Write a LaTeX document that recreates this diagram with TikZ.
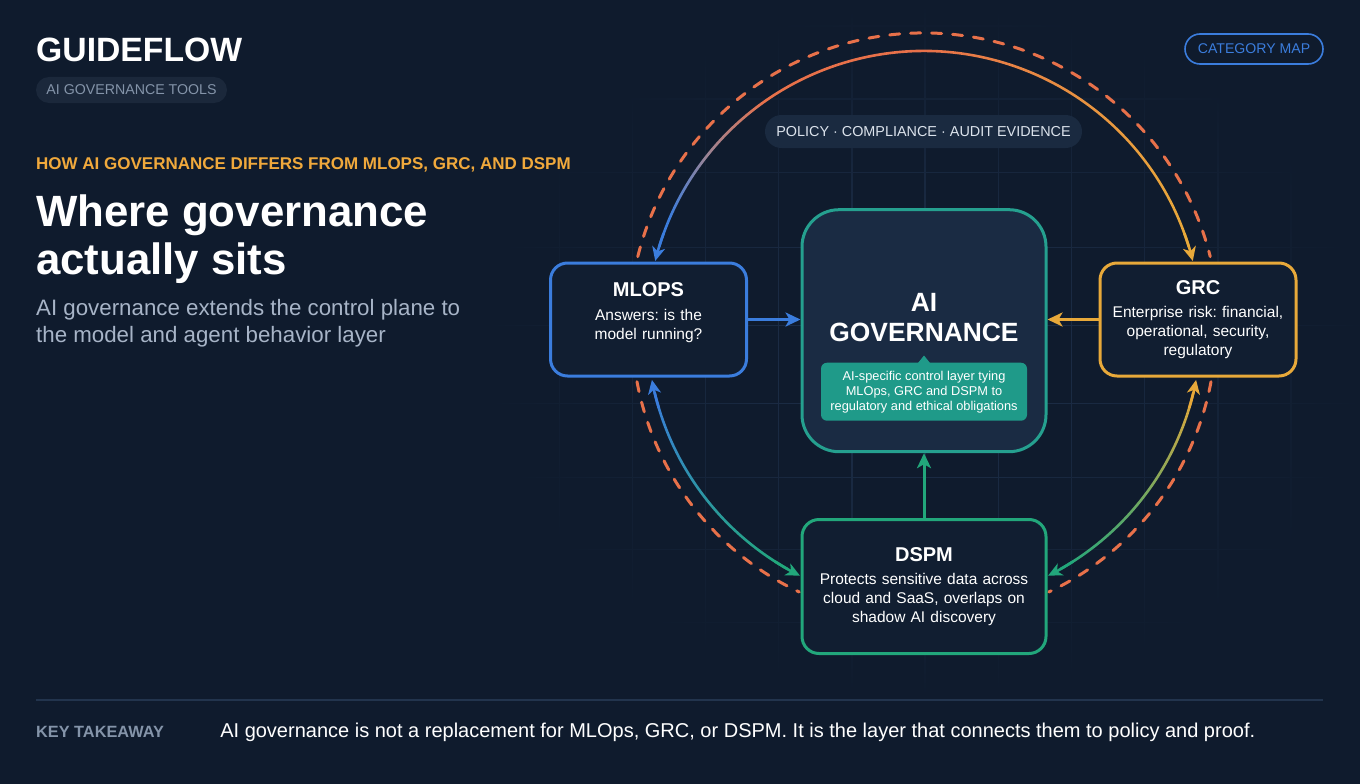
\documentclass[tikz,border=0pt]{standalone}
\usepackage{fontspec}
\setmainfont{Liberation Sans}
\usetikzlibrary{arrows.meta,positioning,calc,fadings}
\definecolor{page}{HTML}{0F1B2D}
\definecolor{gridline}{HTML}{213450}
\definecolor{cardfill}{HTML}{111E31}
\definecolor{govfill}{HTML}{1A2B43}
\definecolor{pillfill}{HTML}{1B283B}
\definecolor{policyfill}{HTML}{1A2A40}
\definecolor{policytext}{HTML}{DCE3EC}
\definecolor{mlblue}{HTML}{3B7DDD}
\definecolor{amber}{HTML}{E8A93A}
\definecolor{kicker}{HTML}{F0A93C}
\definecolor{govteal}{HTML}{25A08F}
\definecolor{notefill}{HTML}{1F9A89}
\definecolor{dspgreen}{HTML}{22A77B}
\definecolor{coral}{HTML}{E8714A}
\definecolor{mauve}{HTML}{9A8496}
\definecolor{lede}{HTML}{A7B4C7}
\definecolor{quiet}{HTML}{8494A9}
\definecolor{rule}{HTML}{22344D}
\newcommand{\headfont}{\bfseries\fontsize{20}{24}\selectfont}
\newcommand{\ringband}[5]{%
  \shade[#5] ($(ring)+(#1:#3)$) arc[start angle=#1, end angle=#2, radius=#3]
    -- ($(ring)+(#2:#4)$) arc[start angle=#2, end angle=#1, radius=#4] -- cycle;}
\pgfdeclarehorizontalshading{toparc}{100bp}{color(0bp)=(mlblue); color(26bp)=(mlblue);
  color(29.5bp)=(mauve); color(35bp)=(coral); color(50bp)=(coral); color(75bp)=(amber);
  color(100bp)=(amber)}
\tikzfading[name=gridfade, inner color=transparent!0, outer color=transparent!100]

\begin{document}
\frenchspacing
\begin{tikzpicture}[x=1pt, y=-1pt,
  card/.style={draw, line width=3pt, fill=cardfill, rounded corners=17pt,
               minimum width=196pt, minimum height=113pt, text width=186pt,
               align=center, inner sep=0pt, text=white,
               font=\fontsize{15.5}{18.8}\selectfont},
  pill/.style={inner sep=0pt, rounded corners=13pt},
  flow/.style={line width=3pt, -{Stealth[length=15pt, width=14pt, inset=4pt]}},
  tip/.style={line width=2.6pt, {Stealth[length=14pt, width=13pt, inset=4pt]}-},
  dashring/.style={coral, line width=3pt, dash pattern=on 10pt off 11pt, line cap=round}]

  \useasboundingbox (0,0) rectangle (1360,784);
  \fill[page] (0,0) rectangle (1360,784);

  % faint grid behind the ring
  \draw[gridline, line width=1.3pt, path fading=gridfade, fit fading=true]
    \foreach \gx in {560,633.3,...,1300} {(\gx,0) -- (\gx,700)}
    \foreach \gy in {25,98,172,247,325,403,477,549,622,695} {(480,\gy) -- (1370,\gy)};

  % left column
  \node[anchor=base west, inner sep=0pt, text=white,
        font=\bfseries\fontsize{33.7}{40}\selectfont] (brand) at (36,62) {GUIDEFLOW};
  \node[pill, fill=pillfill, text=quiet, minimum width=191pt, minimum height=26pt,
        font=\fontsize{14.2}{17}\selectfont] (tag) at (131.5,90) {AI GOVERNANCE TOOLS};
  \node[anchor=base west, inner sep=0pt, text=kicker,
        font=\bfseries\fontsize{17}{20}\selectfont] (kicker) at (36,169)
        {HOW AI GOVERNANCE DIFFERS FROM MLOPS, GRC, AND DSPM};
  \node[anchor=north west, inner sep=0pt, text=white, align=left,
        font=\bfseries\fontsize{43.8}{48}\selectfont] (headline) at (36,195)
        {Where governance\\actually sits};
  \node[anchor=north west, inner sep=0pt, text=lede, align=left,
        font=\fontsize{22.3}{26.7}\selectfont] (lede) at (36,299)
        {AI governance extends the control plane to\\the model and agent behavior layer};
  \node[pill, draw=mlblue, line width=1.6pt, text=mlblue, rounded corners=15pt,
        minimum width=138pt, minimum height=30pt,
        font=\fontsize{14.1}{17}\selectfont] (catmap) at (1254,49) {CATEGORY MAP};

  % ring
  \coordinate (ring) at (924,328);
  \draw[dashring] ($(ring)+(194:295)$) arc[start angle=194, end angle=346, radius=295];
  \draw[dashring] ($(ring)+(169.4:292)$) arc[start angle=169.4, end angle=115.3, radius=292];
  \draw[dashring] ($(ring)+(10.6:292)$) arc[start angle=10.6, end angle=64.7, radius=292];
  \ringband{197}{343}{278.3}{275.7}{shading=toparc}
  \ringband{166.5}{119.5}{278.3}{275.7}{top color=mlblue, bottom color=dspgreen}
  \ringband{13.5}{60.5}{278.3}{275.7}{top color=amber, bottom color=dspgreen}
  \coordinate (mlin) at ($(ring)+(194:277)$);
  \coordinate (grcin) at ($(ring)+(346:277)$);
  \coordinate (mlout) at ($(ring)+(169.2:277)$);
  \coordinate (dspl) at ($(ring)+(116.6:277)$);
  \coordinate (grcout) at ($(ring)+(10.8:277)$);
  \coordinate (dspr) at ($(ring)+(63.4:277)$);
  \draw[tip, mlblue] (mlin) arc[start angle=194, end angle=200, radius=277];
  \draw[tip, amber] (grcin) arc[start angle=346, end angle=340, radius=277];
  \draw[tip, mlblue] (mlout) arc[start angle=169.2, end angle=163.2, radius=277];
  \draw[tip, dspgreen] (dspl) arc[start angle=116.6, end angle=122.6, radius=277];
  \draw[tip, amber] (grcout) arc[start angle=10.8, end angle=16.8, radius=277];
  \draw[tip, dspgreen] (dspr) arc[start angle=63.4, end angle=57.4, radius=277];

  \node[pill, fill=policyfill, text=policytext, rounded corners=16.5pt,
        minimum width=317pt, minimum height=33pt,
        font=\fontsize{14.4}{17}\selectfont] (policy) at (923.5,131.5)
        {POLICY · COMPLIANCE · AUDIT EVIDENCE};

  % boxes
  \node[draw=govteal, line width=3pt, fill=govfill, rounded corners=37pt,
        minimum width=244pt, minimum height=242pt] (gov) at (924,330.7) {};
  \node[inner sep=0pt, text=white, align=center,
        font=\bfseries\fontsize{26.4}{30}\selectfont] (govtitle)
        at ($(gov.center)+(0,-13.5)$) {AI\\GOVERNANCE};
  \node[fill=notefill, rounded corners=6pt, inner sep=0pt, text=white, align=center,
        minimum width=206pt, minimum height=58pt,
        font=\fontsize{12.8}{15}\selectfont] (note) at ($(gov.center)+(0,61)$)
        {AI-specific control layer tying\\MLOps, GRC and DSPM to\\regulatory and ethical obligations};
  \fill[notefill] ($(note.north)+(-6,0.5)$) -- ($(note.north)+(0,-7)$)
    -- ($(note.north)+(6,0.5)$) -- cycle;

  \node[card, draw=mlblue, text depth=60pt] (mlops) at (648.5,319.5)
    {{\headfont MLOPS\par}\vspace{5pt}Answers: is the\\model running?};
  \node[card, draw=amber] (grc) at (1198,319.5)
    {{\headfont GRC\par}\vspace{5pt}Enterprise risk: financial,\\operational, security,\\regulatory};
  \node[card, draw=dspgreen, minimum width=244pt, minimum height=134pt,
        text width=234pt] (dspm) at (924,586.5)
    {{\headfont DSPM\par}\vspace{5pt}Protects sensitive data across\\cloud and SaaS, overlaps on\\shadow AI discovery};

  \draw[flow, mlblue] (mlops.east) -- (mlops.east -| gov.west);
  \draw[flow, amber] (grc.west) -- (grc.west -| gov.east);
  \draw[flow, dspgreen] (dspm.north) -- (gov.south);

  % takeaway
  \draw[rule, line width=2pt] (36,700) -- (1323,700);
  \node[anchor=base west, inner sep=0pt, text=quiet,
        font=\bfseries\fontsize{16.3}{19}\selectfont] (takelabel) at (36,737) {KEY TAKEAWAY};
  \node[base right=56pt of takelabel, inner sep=0pt, text=white,
        font=\fontsize{20}{24}\selectfont] (takeaway)
        {AI governance is not a replacement for MLOps, GRC, or DSPM. It is the layer that connects them to policy and proof.};
\end{tikzpicture}
\end{document}
